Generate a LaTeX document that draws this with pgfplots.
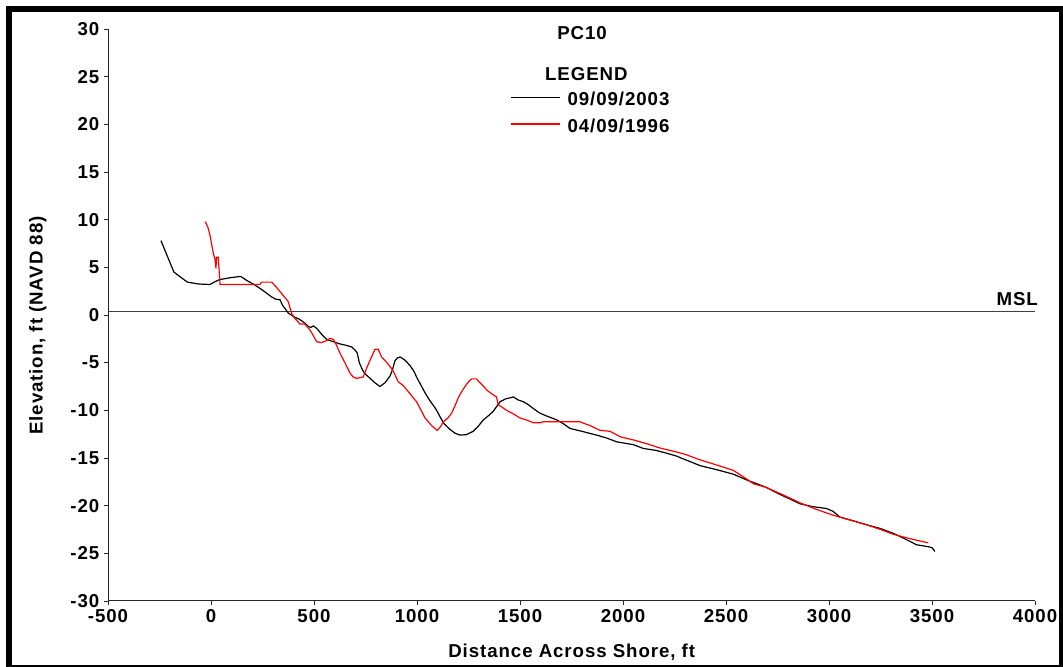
\documentclass[border=0pt]{standalone}
\usepackage{fontspec}
\setmainfont{Liberation Sans}[LetterSpace=5]
\usepackage{pgfplots}
\pgfplotsset{compat=1.18}
\definecolor{surveyred}{RGB}{255,0,0}
\begin{document}
\begin{tikzpicture}[x=0.75pt,y=0.75pt,
  lbl/.style={font=\bfseries\fontsize{14}{16}\selectfont, inner sep=0pt}]
\useasboundingbox (0,0) rectangle (1063,667);
% outer frame of the figure
\begin{scope}
  \clip (0,0) rectangle (1063,667);
  \draw[line width=4.5pt] (8.8,-1) rectangle (1062,658.2);
\end{scope}

% title, legend and axis titles
\node[lbl, anchor=base] at (582,627.7) {PC10};
\node[lbl, anchor=base] at (586.3,586) {LEGEND};
\draw[black, line width=0.9pt] (511,569.7) -- (560,569.7);
\node[lbl, anchor=base west] at (567.3,561) {09/09/2003};
\draw[surveyred, line width=0.9pt] (511,543) -- (560,543);
\node[lbl, anchor=base west] at (567.3,534.3) {04/09/1996};
\node[lbl, anchor=base] at (571.7,9.7) {Distance Across Shore, ft};
\node[lbl, anchor=base, rotate=90] at (42.7,341.5) {Elevation, ft (NAVD 88)};

\begin{axis}[
  at={(81pt,49.5pt)}, anchor=south west, scale only axis,
  width=695.25pt, height=429pt,
  xmin=-500, xmax=4000, ymin=-30, ymax=30,
  xtick distance=500, ytick distance=5,
  axis lines*=left,
  axis line style={black!85, line width=0.75pt},
  tick style={black!85, line width=0.6pt},
  tick align=outside, major tick length=3pt,
  ticklabel style={font=\bfseries\fontsize{14}{16}\selectfont},
  /pgf/number format/assume math mode=true,
  /pgf/number format/1000 sep={},
  clip=false,
]
% mean sea level
\addplot[black!75, line width=0.75pt] coordinates {(-500,0.4) (4000,0.4)};
\node[lbl, anchor=base east] at (axis cs:4015,1.0) {MSL};

% survey 09/09/2003
\addplot[black, line width=0.9pt] coordinates {
(-243,7.8) (-180,4.5) (-115,3.45) (-60,3.25) (-5,3.2) (20,3.5) (40,3.7) (90,3.9)
(144,4.05) (175,3.6) (205,3.25) (230,2.9) (254,2.55) (275,2.2) (294,1.9) (315,1.65)
(335,1.6) (348,1.0) (362,0.6) (375,0.2) (390,0.0) (408,-0.25) (425,-0.4) (440,-0.6)
(458,-0.9) (472,-1.2) (485,-1.3) (497,-1.15) (510,-1.35) (521,-1.6) (540,-2.1)
(561,-2.55) (580,-2.7) (594,-2.8) (620,-3.0) (650,-3.15) (683,-3.35) (700,-3.7)
(710,-4.0) (720,-5.0) (732,-5.6) (744,-6.1) (770,-6.6) (795,-7.1) (820,-7.5)
(845,-7.1) (869,-6.4) (880,-5.8) (893,-4.8) (905,-4.5) (918,-4.4) (940,-4.7)
(966,-5.3) (985,-5.9) (1000,-6.6) (1015,-7.2) (1040,-8.2) (1063,-9.0) (1080,-9.5)
(1095,-10.0) (1110,-10.6) (1128,-11.3) (1145,-11.7) (1160,-12.0) (1185,-12.4)
(1209,-12.6) (1240,-12.55) (1273,-12.2) (1300,-11.6) (1322,-11.0) (1345,-10.6)
(1370,-10.1) (1390,-9.5) (1403,-9.1) (1430,-8.8) (1468,-8.6) (1490,-8.9)
(1516,-9.1) (1540,-9.4) (1570,-9.9) (1597,-10.3) (1630,-10.6) (1678,-11.0)
(1710,-11.4) (1743,-11.9) (1800,-12.2) (1872,-12.6) (1920,-12.9) (1969,-13.3)
(2050,-13.6) (2099,-14.0) (2160,-14.2) (2212,-14.5) (2260,-14.8) (2293,-15.1)
(2340,-15.5) (2374,-15.8) (2450,-16.2) (2536,-16.7) (2600,-17.3) (2650,-17.7)
(2697,-18.1) (2760,-18.8) (2810,-19.3) (2859,-19.8) (2920,-20.1) (2988,-20.3)
(3020,-20.6) (3053,-21.2) (3120,-21.6) (3182,-22.0) (3250,-22.4) (3312,-22.9)
(3370,-23.5) (3425,-24.1) (3480,-24.3) (3500,-24.4) (3514,-24.8)
};

% survey 04/09/1996
\addplot[surveyred, line width=0.9pt] coordinates {
(-28,9.8) (-15,9.2) (-5,8.4) (5,7.2) (12,6.4) (19,5.9) (24,4.9) (27,6.05) (35,6.05)
(44,3.2) (100,3.2) (180,3.2) (238,3.2) (245,3.45) (294,3.45) (318,2.9) (342,2.27)
(360,1.8) (375,1.4) (383,0.8) (391,0.18) (403,-0.25) (418,-0.6) (432,-0.95)
(456,-0.95) (470,-1.3) (481,-1.6) (495,-2.1) (513,-2.8) (537,-2.9) (560,-2.7)
(578,-2.45) (594,-2.55) (610,-3.2) (626,-4.0) (650,-5.0) (675,-6.1) (690,-6.5)
(707,-6.65) (739,-6.5) (755,-5.6) (775,-4.6) (796,-3.6) (812,-3.6) (828,-4.4)
(850,-4.9) (869,-5.4) (885,-5.9) (909,-7.0) (933,-7.4) (960,-8.1) (990,-8.9)
(998,-9.1) (1020,-10.0) (1039,-10.8) (1055,-11.2) (1071,-11.6) (1098,-12.1)
(1115,-11.7) (1128,-11.2) (1150,-10.8) (1168,-10.3) (1185,-9.5) (1200,-8.7)
(1215,-8.1) (1233,-7.5) (1250,-7.0) (1265,-6.7) (1289,-6.7) (1305,-7.1)
(1322,-7.45) (1340,-7.9) (1365,-8.3) (1386,-8.6) (1394,-9.4) (1415,-9.7)
(1435,-10.0) (1470,-10.4) (1500,-10.8) (1530,-11.0) (1565,-11.3) (1597,-11.3)
(1613,-11.2) (1700,-11.2) (1791,-11.2) (1815,-11.4) (1840,-11.6) (1888,-12.1)
(1937,-12.2) (1990,-12.8) (2050,-13.1) (2131,-13.6) (2170,-13.9) (2228,-14.2)
(2300,-14.6) (2374,-15.2) (2450,-15.7) (2536,-16.3) (2600,-17.2) (2633,-17.7)
(2697,-18.1) (2780,-18.9) (2859,-19.7) (2940,-20.4) (3020,-21.0) (3100,-21.5)
(3182,-22.0) (3250,-22.5) (3312,-23.0) (3400,-23.5) (3482,-23.9)
};
\end{axis}
\end{tikzpicture}
\end{document}
